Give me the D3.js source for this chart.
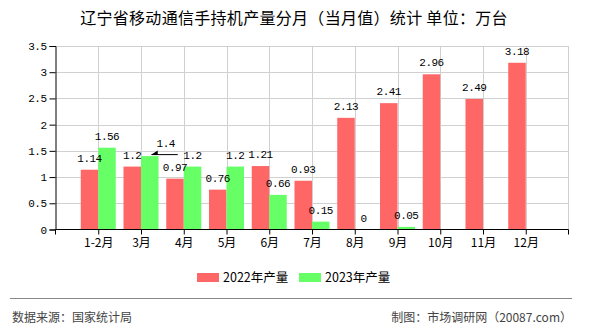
<!DOCTYPE html>
<html><head><meta charset="utf-8">
<script src="https://cdn.jsdelivr.net/npm/d3@7"></script>
<style>
html,body{margin:0;padding:0;background:#fff;}
svg{display:block;}
</style></head>
<body>
<script>
const categories = ["1-2月","3月","4月","5月","6月","7月","8月","9月","10月","11月","12月"];
const values2022 = [1.14,1.2,0.97,0.76,1.21,0.93,2.13,2.41,2.96,2.49,3.18];
const values2023 = [1.56,1.4,1.2,1.2,0.66,0.15,0,0.05,null,null,null];
const seriesNames = ["2022年产量","2023年产量"];
const yTicks = [0,0.5,1,1.5,2,2.5,3,3.5];
const title = "辽宁省移动通信手持机产量分月（当月值）统计 单位：万台";
const sourceText = "数据来源：国家统计局";
const creditText = "制图：市场调研网（20087.com）";

(function(){
const W = 590, H = 330;
const colors = ["#ff6666","#66ff66"];
const pL = 55.5, pR = 568.5, pT = 46, pB = 229.5;
const numFont = "'Liberation Mono','DejaVu Sans Mono',monospace";
const cjkFont = "'Noto Sans CJK SC','Noto Sans',sans-serif";

const svg = d3.select("body").append("svg").attr("width", W).attr("height", H);

const x = d3.scalePoint().domain(categories).range([pL, pR]).padding(1);
const y = d3.scaleLinear().domain([0, 3.5]).range([pB, pT]);
const bw = 17.5;

// grid
const grid = svg.append("g").attr("stroke", "#d0d0d0").attr("stroke-width", 1);
grid.selectAll("line.h").data(yTicks.slice(1)).join("line")
  .attr("x1", pL).attr("x2", pR)
  .attr("y1", d => Math.round(y(d)) + 0.5).attr("y2", d => Math.round(y(d)) + 0.5);
grid.selectAll("line.v").data(categories).join("line")
  .attr("x1", d => Math.round(x(d)) + 0.5).attr("x2", d => Math.round(x(d)) + 0.5)
  .attr("y1", pT).attr("y2", pB);
grid.append("line").attr("x1", pR).attr("x2", pR).attr("y1", pT).attr("y2", pB);

// bars
const series = [values2022, values2023];
series.forEach((vals, si) => {
  svg.append("g").selectAll("rect").data(categories.map((c, i) => ({c, v: vals[i]})).filter(d => d.v != null))
    .join("rect")
    .attr("x", d => si === 0 ? x(d.c) - bw : x(d.c))
    .attr("width", bw)
    .attr("y", d => y(d.v))
    .attr("height", d => pB - y(d.v))
    .attr("fill", colors[si]);
});

// axes
const yAxis = svg.append("g").attr("transform", `translate(${pL},0)`)
  .call(d3.axisLeft(y).tickValues(yTicks).tickSize(6).tickPadding(3).tickFormat(d => String(d)));
yAxis.select(".domain").attr("stroke", "#000");
yAxis.selectAll("text").attr("font-family", numFont).attr("font-size", 11).attr("fill", "#000").attr("letter-spacing", "-0.5");

const xAxis = svg.append("g").attr("transform", `translate(0,${pB})`)
  .call(d3.axisBottom(x).tickSize(5).tickPadding(4));
xAxis.select(".domain").attr("stroke", "#000").attr("d", `M${pL},5V0H${pR}V5`);
xAxis.selectAll("text").attr("font-family", cjkFont).attr("font-size", 12).attr("fill", "#000");
xAxis.selectAll(".tick line").attr("stroke", "#000");

// value labels
series.forEach((vals, si) => {
  categories.forEach((c, i) => {
    const v = vals[i];
    if (v == null) return;
    const cx = si === 0 ? x(c) - bw / 2 : x(c) + bw / 2;
    const shifted = (si === 1 && i === 1);
    const lx = shifted ? cx + 16 : cx;
    const ly = y(v) - 8;
    svg.append("text").attr("x", lx).attr("y", shifted ? ly - 1 : ly)
      .attr("text-anchor", "middle").attr("font-family", numFont).attr("font-size", 11)
      .attr("letter-spacing", "-0.5").attr("fill", "#000").text(String(v));
    if (shifted) {
      const ay = y(v) - 1.5;
      svg.append("line").attr("x1", cx + 2).attr("x2", cx + 28).attr("y1", ay).attr("y2", ay)
        .attr("stroke", "#000").attr("stroke-width", 1);
      svg.append("path").attr("d", `M${cx + 1},${ay + 0.5}L${cx + 8},${ay - 4}L${cx + 8},${ay + 0.5}Z`).attr("fill", "#000");
    }
  });
});

// title
svg.append("text").attr("x", 294).attr("y", 24).attr("text-anchor", "middle")
  .attr("font-family", cjkFont).attr("font-size", 16).attr("letter-spacing", "0.3").attr("fill", "#000").text(title);

// legend
const lg = svg.append("g");
const legX = [197, 299];
seriesNames.forEach((n, i) => {
  lg.append("rect").attr("x", legX[i]).attr("y", 273).attr("width", 22).attr("height", 9).attr("fill", colors[i]);
  lg.append("text").attr("x", legX[i] + 26).attr("y", 282).attr("font-family", cjkFont).attr("font-size", 12.5)
    .attr("fill", "#000").text(n);
});

// footer
svg.append("line").attr("x1", 10).attr("x2", 572).attr("y1", 298.5).attr("y2", 298.5).attr("stroke", "#888").attr("stroke-width", 1);
svg.append("text").attr("x", 12).attr("y", 322).attr("font-family", cjkFont).attr("font-size", 12).attr("fill", "#444").text(sourceText);
svg.append("text").attr("x", 572).attr("y", 322).attr("text-anchor", "end").attr("font-family", cjkFont).attr("font-size", 12).attr("fill", "#444").text(creditText);
})();
</script>
</body></html>
